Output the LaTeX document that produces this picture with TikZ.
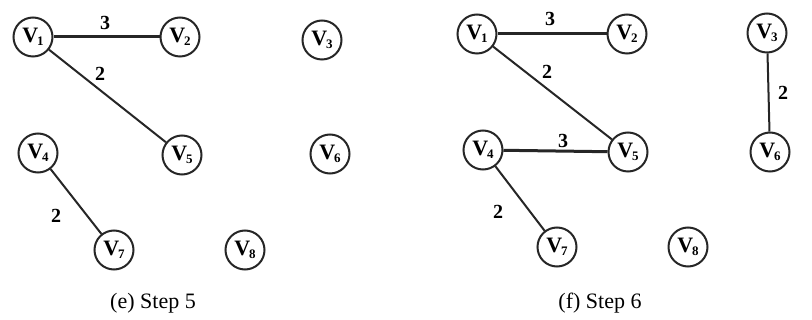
\documentclass[tikz,border=0pt]{standalone}
\usepackage{fontspec}
\setmainfont{Liberation Serif}
\newcommand{\vlab}[1]{V\kern-1pt\raisebox{-0.3ex}{\fontsize{13}{13}\selectfont #1}}
\begin{document}
\begin{tikzpicture}[x=1pt,y=-1pt,
  vtx/.style={circle,draw=black!85,line width=2pt,minimum size=39pt,inner sep=0pt,font=\fontsize{22}{22}\selectfont\bfseries},
  edge/.style={draw=black!85,line width=2pt},
  hedge/.style={draw=black!85,line width=3pt},
  wt/.style={font=\fontsize{20}{20}\selectfont\bfseries,inner sep=1pt},
  capt/.style={font=\fontsize{22}{22}\selectfont}]
\useasboundingbox (0,0) rectangle (812,320);
% ---- left panel (e)
\node[vtx] (a1) at (33,37) {\vlab{1}};
\node[vtx] (a2) at (180,37) {\vlab{2}};
\node[vtx] (a3) at (322,40) {\vlab{3}};
\node[vtx] (a4) at (38,153) {\vlab{4}};
\node[vtx] (a5) at (182,155) {\vlab{5}};
\node[vtx] (a6) at (330,154) {\vlab{6}};
\node[vtx] (a7) at (114,250) {\vlab{7}};
\node[vtx] (a8) at (245,250) {\vlab{8}};
\draw[hedge] (a1) -- (a2);
\draw[edge] (a1) -- (a5);
\draw[edge] (a4) -- (a7);
\node[wt] (wa12) at (105,23) {3};
\node[wt] (wa15) at (100,74) {2};
\node[wt] (wa47) at (56,216) {2};
\node[capt] (ca) at (153,303) {(e) Step 5};
% ---- right panel (f)
\node[vtx] (b1) at (477,34) {\vlab{1}};
\node[vtx] (b2) at (627,34) {\vlab{2}};
\node[vtx] (b3) at (767,33) {\vlab{3}};
\node[vtx] (b4) at (483,150) {\vlab{4}};
\node[vtx] (b5) at (628,152) {\vlab{5}};
\node[vtx] (b6) at (770,152) {\vlab{6}};
\node[vtx] (b7) at (557,247) {\vlab{7}};
\node[vtx] (b8) at (688,247) {\vlab{8}};
\draw[hedge] (b1) -- (b2);
\draw[edge] (b1) -- (b5);
\draw[hedge] (b4) -- (b5);
\draw[edge] (b3) -- (b6);
\draw[edge] (b4) -- (b7);
\node[wt] (wb12) at (550,19) {3};
\node[wt] (wb15) at (547,72) {2};
\node[wt] (wb45) at (563,141) {3};
\node[wt] (wb36) at (783,93) {2};
\node[wt] (wb47) at (498,212) {2};
\node[capt] (cb) at (600,303) {(f) Step 6};
\end{tikzpicture}
\end{document}
